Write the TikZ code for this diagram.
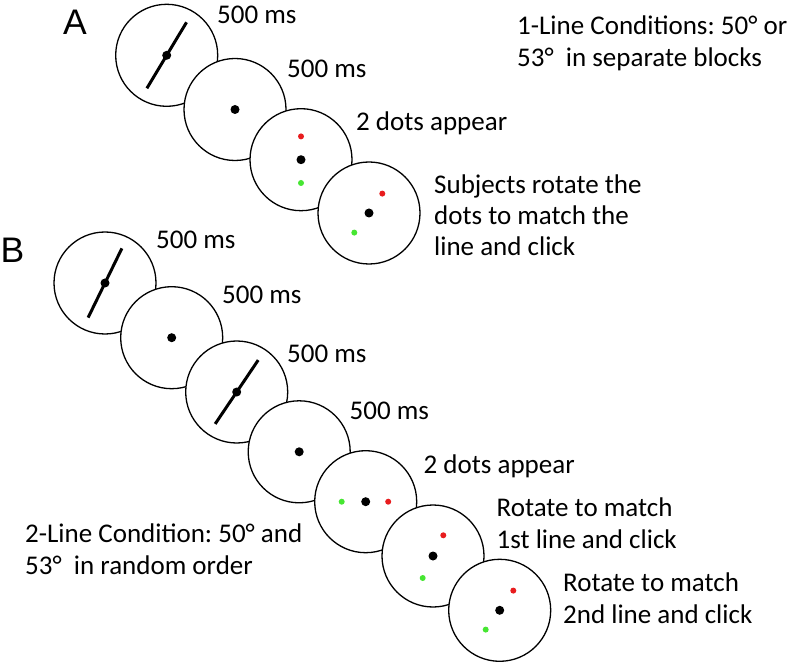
\documentclass[tikz,border=0pt]{standalone}
\usepackage{fontspec}
\setmainfont{Carlito}
\newfontfamily\arialf{Liberation Sans}
\usetikzlibrary{calc}
\definecolor{dotred}{RGB}{232,28,30}
\definecolor{dotgreen}{RGB}{70,230,50}
\frenchspacing
\begin{document}
\begin{tikzpicture}[x=1pt,y=-1pt,
  stim/.style={circle,draw=black,line width=1.3pt,fill=white,minimum size=102pt,inner sep=0pt},
  lbl/.style={anchor=base west,inner sep=0pt,font=\fontsize{27}{31}\selectfont},
  panel/.style={anchor=base west,inner sep=0pt,font=\arialf\fontsize{35.5}{40}\selectfont},
  bar/.style={line width=3pt},
  fix/.style={fill=black},
  reddot/.style={fill=dotred},
  greendot/.style={fill=dotgreen}]
\useasboundingbox (0,0) rectangle (796,663);
% Panel labels
\node[panel] (labA) at (63,35) {A};
\node[panel] (labB) at (0.5,263) {B};
% ---------- Panel A ----------
\node[stim] (a1) at (166.7,55.3) {};
\draw[bar] ($(a1.center)+(-59:38.5)$) -- ($(a1.center)+(121:38.5)$);
\fill[fix] (a1.center) circle (4.5);
\node[stim] (a2) at (235,109.5) {};
\fill[fix] (a2.center) circle (4.5);
\node[stim] (a3) at (301,159.7) {};
\fill[fix] (a3.center) circle (4.5);
\fill[reddot] ($(a3.center)+(0,-23.3)$) circle (3);
\fill[greendot] ($(a3.center)+(0,23.3)$) circle (3);
\node[stim] (a4) at (369,213) {};
\fill[fix] (a4.center) circle (4.5);
\fill[reddot] ($(a4.center)+(13.3,-19.4)$) circle (3);
\fill[greendot] ($(a4.center)+(-14.7,19.6)$) circle (3);
\node[lbl] (ta1) at (217,24) {500 ms};
\node[lbl] (ta2) at (287,77.7) {500 ms};
\node[lbl] (ta3) at (356,130.7) {2 dots appear};
\node[lbl] (ca1) at (517,35) {1-Line Conditions: 50° or};
\node[lbl] (ca2) at (517,66.5) {53°\ \ in separate blocks};
\node[lbl] (sa1) at (434,193.3) {Subjects rotate the};
\node[lbl] (sa2) at (434,225) {dots to match the};
\node[lbl] (sa3) at (434,255.5) {line and click};
% ---------- Panel B ----------
\node[stim] (b1) at (105,283) {};
\draw[bar] ($(b1.center)+(-64:38.5)$) -- ($(b1.center)+(116:38.5)$);
\fill[fix] (b1.center) circle (4.5);
\node[stim] (b2) at (171.7,337.7) {};
\fill[fix] (b2.center) circle (4.5);
\node[stim] (b3) at (236.7,392) {};
\draw[bar] ($(b3.center)+(-56:38.5)$) -- ($(b3.center)+(124:38.5)$);
\fill[fix] (b3.center) circle (4.5);
\node[stim] (b4) at (299.2,451.8) {};
\fill[fix] (b4.center) circle (4.5);
\node[stim] (b5) at (365.7,501.7) {};
\fill[fix] (b5.center) circle (4.5);
\fill[greendot] ($(b5.center)+(-24,0)$) circle (3);
\fill[reddot] ($(b5.center)+(22.5,0)$) circle (3);
\node[stim] (b6) at (433,556) {};
\fill[fix] (b6.center) circle (4.5);
\fill[reddot] ($(b6.center)+(10.3,-20.7)$) circle (3);
\fill[greendot] ($(b6.center)+(-10.3,22)$) circle (3);
\node[stim] (b7) at (499.7,610.3) {};
\fill[fix] (b7.center) circle (4.5);
\fill[reddot] ($(b7.center)+(13.6,-19.7)$) circle (3);
\fill[greendot] ($(b7.center)+(-14,19.3)$) circle (3);
\node[lbl] (tb1) at (156,248.3) {500 ms};
\node[lbl] (tb2) at (222,303.3) {500 ms};
\node[lbl] (tb3) at (287,362.3) {500 ms};
\node[lbl] (tb4) at (349.5,419) {500 ms};
\node[lbl] (tb5) at (423.5,473.3) {2 dots appear};
\node[lbl] (rb1) at (496.5,516) {Rotate to match};
\node[lbl] (rb2) at (496.5,548) {1st line and click};
\node[lbl] (rb3) at (563,591.5) {Rotate to match};
\node[lbl] (rb4) at (563,623.3) {2nd line and click};
\node[lbl] (cb1) at (25,542.7) {2-Line Condition: 50° and};
\node[lbl] (cb2) at (25,574) {53°\ \ in random order};
\end{tikzpicture}
\end{document}
